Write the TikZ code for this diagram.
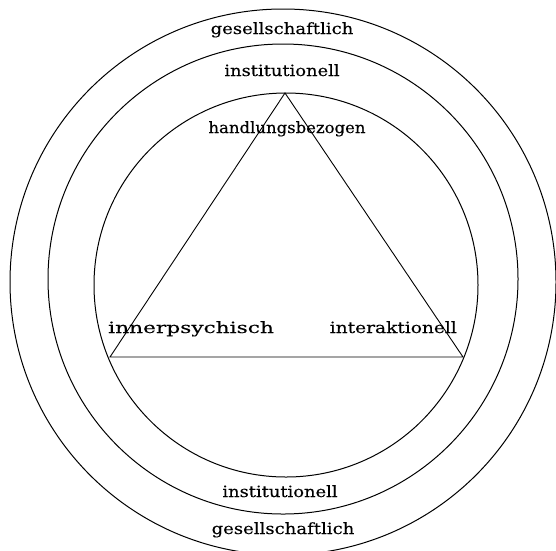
\documentclass[tikz,border=0pt]{standalone}
\usepackage{fontspec}
\setmainfont[FakeStretch=1.12,FakeBold=0.25]{DejaVu Serif}
\begin{document}
\begin{tikzpicture}[x=1pt,y=-1pt,
  ring/.style={draw=black,line width=1pt},
  edge/.style={draw=black,line width=0.9pt},
  lbl/.style={font=\fontsize{15.5}{17}\selectfont,inner sep=0pt,text=black}]
\useasboundingbox (0,0) rectangle (556,550);
\clip (0,0) rectangle (556,550);
\fill[white] (0,0) rectangle (556,550);
% rings
\draw[ring] (283,282) circle [radius=273];
\draw[ring] (283,279) circle [radius=235];
\draw[ring] (286,285) circle [radius=192];
% triangle
\coordinate (apex) at (285,93);
\coordinate (bl) at (110,357);
\coordinate (br) at (463,357);
\draw[edge] (apex) -- (bl) -- (br) -- cycle;
% labels
\node[lbl,anchor=base] (g1) at (282,34) {\scalebox{1.04}[1]{gesellschaftlich}};
\node[lbl,anchor=base] (i1) at (282,76) {\scalebox{1.03}[1]{institutionell}};
\node[lbl,anchor=base] (h) at (287,133) {\scalebox{0.95}[1]{handlungsbezogen}};
\node[lbl,anchor=base west] (ip) at (108,333) {\scalebox{1.25}[1]{innerpsychisch}};
\node[lbl,anchor=base east] (ia) at (457,333) {\scalebox{1.07}[1]{interaktionell}};
\node[lbl,anchor=base] (i2) at (280,497) {\scalebox{1.03}[1]{institutionell}};
\node[lbl,anchor=base] (g2) at (283,534) {\scalebox{1.04}[1]{gesellschaftlich}};
\end{tikzpicture}
\end{document}
